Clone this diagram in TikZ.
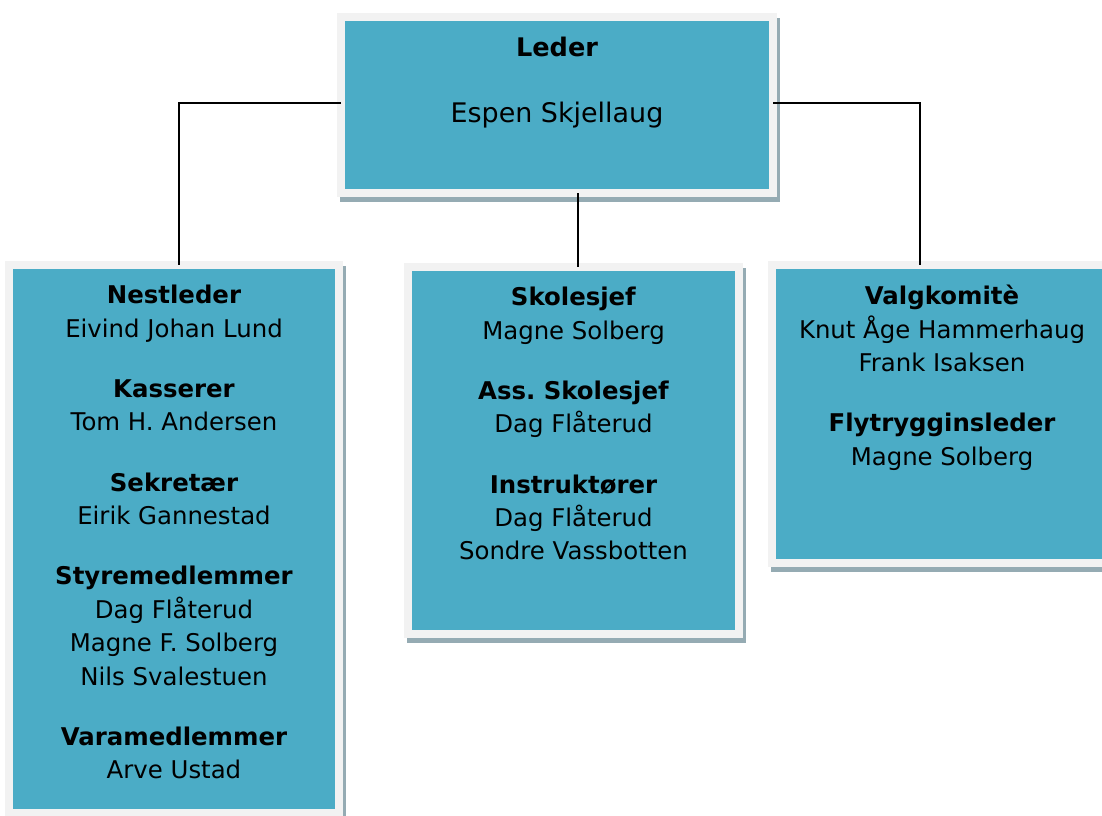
\documentclass[tikz,border=0pt]{standalone}
\usepackage{fontspec}
\setmainfont{DejaVu Sans}
\usetikzlibrary{positioning}
\frenchspacing

\definecolor{boxfill}{HTML}{4BACC6}
\definecolor{boxframe}{HTML}{F2F2F2}
\definecolor{boxshade}{HTML}{95ABB3}

\tikzset{
  orgbox/.style={rectangle, fill=boxfill, draw=boxframe, line width=6pt,
    outer sep=0pt, inner sep=0pt,
    preaction={fill=boxshade, draw=boxshade, line width=6pt,
      transform canvas={xshift=2.25pt, yshift=-3.75pt}}},
  orgtext/.style={align=center, inner sep=0pt,
    font=\fontsize{18.3}{25.1}\selectfont},
  link/.style={line width=1.5pt}
}

\begin{document}
\begin{tikzpicture}[x=0.75pt, y=-0.75pt]
  \useasboundingbox (0,0) rectangle (1102,815);

  % Boxes
  \node[orgbox, minimum width=324pt, minimum height=132pt] (lead) at (557,105) {};
  \node[orgbox, minimum width=247.5pt, minimum height=411pt] (nest) at (174,539) {};
  \node[orgbox, minimum width=248.25pt, minimum height=275.25pt] (skole) at (573.5,450.5) {};
  \node[orgbox, minimum width=255pt, minimum height=223.5pt] (valg) at (942,414) {};

  % Texts
  \node[orgtext, below=15pt of lead.north, font=\fontsize{19.2}{24}\selectfont] (leadtxt)
    {\textbf{Leder}\\[25pt]{\fontsize{20.2}{24}\selectfont Espen Skjellaug}};
  \node[orgtext, below=15pt of nest.north] (nesttxt)
    {\textbf{Nestleder}\\Eivind Johan Lund\\[20pt]
     \textbf{Kasserer}\\Tom H. Andersen\\[20pt]
     \textbf{Sekretær}\\Eirik Gannestad\\[20pt]
     \textbf{Styremedlemmer}\\Dag Flåterud\\Magne F. Solberg\\Nils Svalestuen\\[20pt]
     \textbf{Varamedlemmer}\\Arve Ustad};
  \node[orgtext, below=15pt of skole.north] (skoletxt)
    {\textbf{Skolesjef}\\Magne Solberg\\[20pt]
     \textbf{Ass. Skolesjef}\\Dag Flåterud\\[20pt]
     \textbf{Instruktører}\\Dag Flåterud\\Sondre Vassbotten};
  \node[orgtext, below=15pt of valg.north] (valgtxt)
    {\textbf{Valgkomitè}\\Knut Åge Hammerhaug\\Frank Isaksen\\[20pt]
     \textbf{Flytrygginsleder}\\Magne Solberg};

  % Edges
  \draw[link] ([yshift=1.5pt]lead.west) -| ([xshift=3.75pt]nest.north);
  \draw[link] ([yshift=1.5pt]lead.east) -| ([xshift=-16.5pt]valg.north);
  \draw[link] ([xshift=3.4pt]skole.north |- lead.south) -- ([xshift=3.4pt]skole.north);

\end{tikzpicture}
\end{document}
